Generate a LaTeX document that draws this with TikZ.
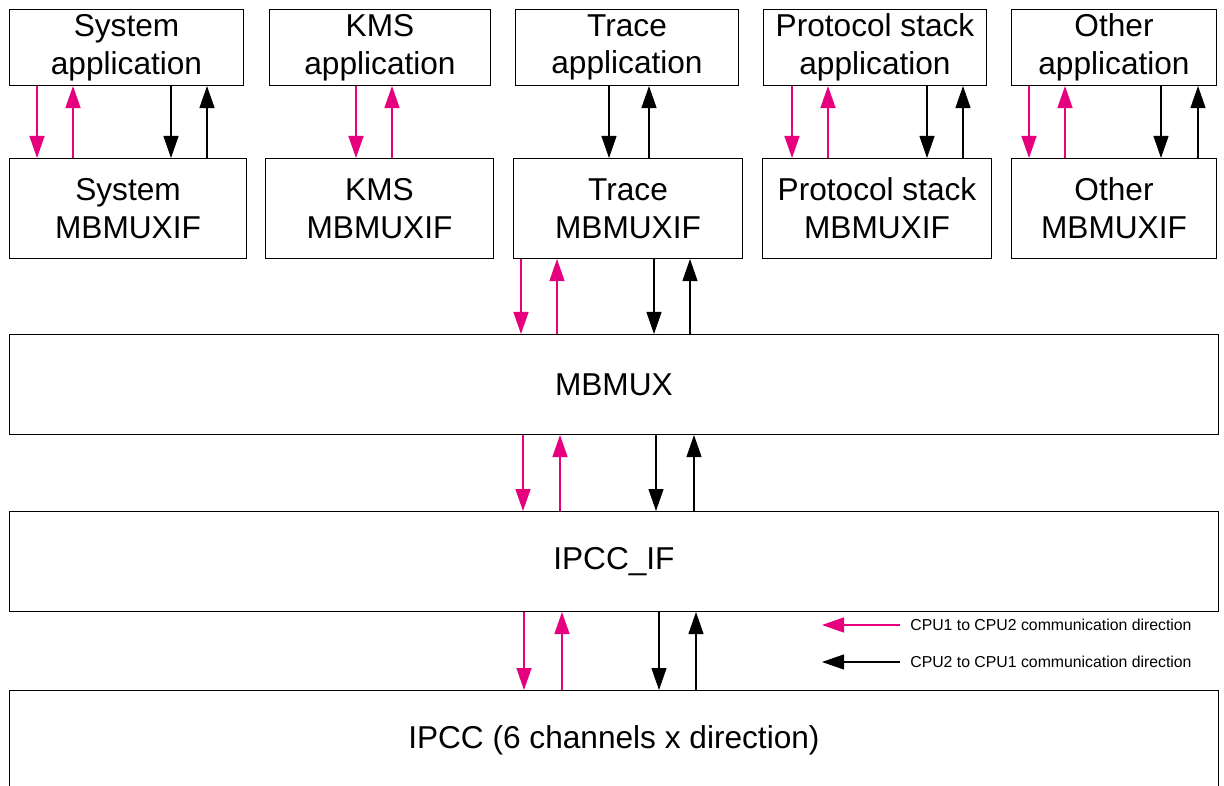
\documentclass[tikz,border=0pt]{standalone}
\usepackage{fontspec}
\setmainfont{Liberation Sans}
\usepackage{tikz}
\usetikzlibrary{positioning,arrows.meta,calc}
\definecolor{stpink}{RGB}{230,0,126}

\begin{document}
\begin{tikzpicture}[x=0.02cm,y=-0.02cm,
        box/.style={draw,anchor=north west,inner sep=0pt,align=center,line width=0.6pt,
            font=\fontsize{18}{21.5}\selectfont},
        appbox/.style={box,minimum height=1.52cm},
        ifbox/.style={box,minimum height=2cm},
        layer/.style={box,minimum height=2cm,minimum width=24.18cm},
        dn/.style={line width=0.6pt,-{Triangle[length=0.44cm,width=0.3cm]}},
        up/.style={line width=0.6pt,{Triangle[length=0.44cm,width=0.3cm]}-},
        pkdn/.style={dn,stpink,line width=0.8pt},
        pkup/.style={up,stpink,line width=0.8pt},
        bkdn/.style={dn},
        bkup/.style={up}]
        \clip[use as bounding box] (0,0) rectangle (1224,786);
        % applications
        \node[appbox,minimum width=4.68cm] (sysapp) at (9,9) {System\\application};
        \node[appbox,minimum width=4.42cm] (kmsapp) at (269,9) {KMS\\application};
        \node[appbox,minimum width=4.46cm] (traceapp) at (515,9) {Trace\\application};
        \node[appbox,minimum width=4.46cm] (protoapp) at (763,9) {Protocol stack\\application};
        \node[appbox,minimum width=4.10cm] (otherapp) at (1011,9) {Other\\application};
        % MBMUXIF
        \node[ifbox,minimum width=4.74cm] (sysif) at (9,158) {System\\MBMUXIF};
        \node[ifbox,minimum width=4.56cm] (kmsif) at (265,158) {KMS\\MBMUXIF};
        \node[ifbox,minimum width=4.58cm] (traceif) at (513,158) {Trace\\MBMUXIF};
        \node[ifbox,minimum width=4.58cm] (protoif) at (762,158) {Protocol stack\\MBMUXIF};
        \node[ifbox,minimum width=4.10cm] (otherif) at (1011,158) {Other\\MBMUXIF};
        % lower layers
        \node[layer] (mbmux) at (9,334) {MBMUX};
        \node[layer] (ipccif) at (9,511) {IPCC\_IF};
        \node[layer] (ipcc) at (9,690) {IPCC (6 channels x direction)};
        % connectors
        \foreach \a/\b/\dx/\st in {sysapp/sysif/28/pkdn, sysapp/sysif/64/pkup, sysapp/sysif/162/bkdn, sysapp/sysif/198/bkup,
            kmsapp/kmsif/87/pkdn, kmsapp/kmsif/123/pkup,
            traceapp/traceif/94/bkdn, traceapp/traceif/134/bkup,
            protoapp/protoif/29/pkdn, protoapp/protoif/65/pkup, protoapp/protoif/164/bkdn, protoapp/protoif/200/bkup,
            otherapp/otherif/18/pkdn, otherapp/otherif/54/pkup, otherapp/otherif/150/bkdn, otherapp/otherif/187/bkup,
            traceif/mbmux/8/pkdn, traceif/mbmux/44/pkup, traceif/mbmux/141/bkdn, traceif/mbmux/177/bkup,
            mbmux/ipccif/514/pkdn, mbmux/ipccif/551/pkup, mbmux/ipccif/647/bkdn, mbmux/ipccif/685/bkup,
            ipccif/ipcc/515/pkdn, ipccif/ipcc/553/pkup, ipccif/ipcc/650/bkdn, ipccif/ipcc/687/bkup}
            \draw[\st] ($(\a.south west)+(\dx,0)$) coordinate (t) -- (t |- \b.north);
        % legend
        \node[anchor=west,inner sep=0pt,font=\fontsize{9}{11}\selectfont] (leg1) at (910,625) {CPU1 to CPU2 communication direction};
        \node[anchor=west,inner sep=0pt,font=\fontsize{9}{11}\selectfont] (leg2) at (910,662) {CPU2 to CPU1 communication direction};
        \coordinate (end1) at (822,625);
        \coordinate (end2) at (822,662);
        \draw[pkdn] ([xshift=-0.2cm]leg1.west) -- (end1);
        \draw[bkdn] ([xshift=-0.2cm]leg2.west) -- (end2);
        \end{tikzpicture}
\end{document}
